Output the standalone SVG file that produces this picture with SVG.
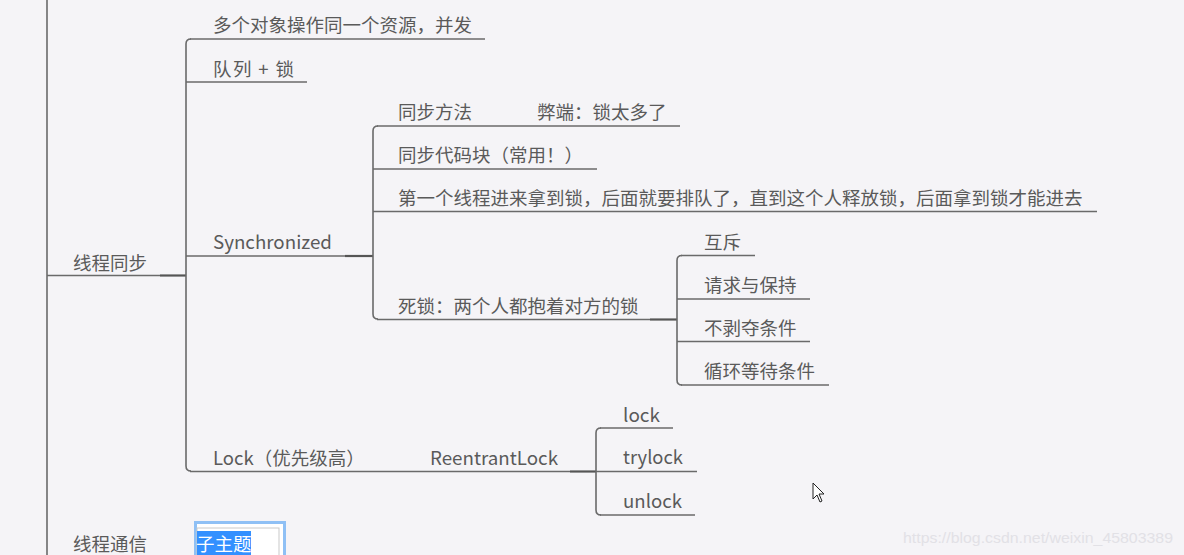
<svg xmlns="http://www.w3.org/2000/svg" width="1184" height="555" viewBox="0 0 1184 555">
<style>
.bg{fill:#f5f4f7}
.t{font-family:"Microsoft YaHei","Noto Sans CJK SC","Noto Sans",sans-serif;font-size:18.5px;fill:#5a5a5a}
.ln{stroke:#6a6a6a;stroke-width:1.6;fill:none}
.dk{stroke:#555555;stroke-width:2.2;fill:none}
.wm{font-family:"Liberation Sans",Arial,sans-serif;font-size:15px;fill:#e2e1e6}
</style>
<rect class="bg" x="0" y="0" width="1184" height="555"/>
<g id="connectors">
<line class="ln" x1="47" y1="0" x2="47" y2="555"/>
<line class="dk" x1="160" y1="275.5" x2="186" y2="275.5"/>
<path class="ln" d="M191 39 Q186 39 186 44 V466 Q186 471 191 471"/>
<line class="dk" x1="345" y1="256" x2="373" y2="256"/>
<path class="ln" d="M378 126 Q373 126 373 131 V314 Q373 319 378 319"/>
<line class="dk" x1="650" y1="319.5" x2="677" y2="319.5"/>
<path class="ln" d="M682 255.5 Q677 255.5 677 260.5 V380 Q677 385 682 385"/>
<line class="dk" x1="570" y1="471.5" x2="596" y2="471.5"/>
<path class="ln" d="M601 428 Q596 428 596 433 V510 Q596 515 601 515"/>
</g>
<g id="n-sync-root">
<line class="ln" x1="47" y1="275.5" x2="160" y2="275.5"/>
<text class="t" x="73" y="270">线程同步</text>
</g>
<g id="n-concurrent">
<line class="ln" x1="190" y1="39" x2="485" y2="39"/>
<text class="t" x="213" y="32">多个对象操作同一个资源，并发</text>
</g>
<g id="n-queue">
<line class="ln" x1="186" y1="82" x2="307" y2="82"/>
<text class="t" x="213" y="76" textLength="81" lengthAdjust="spacing">队列 + 锁</text>
</g>
<g id="n-synchronized">
<line class="ln" x1="186" y1="256" x2="345" y2="256"/>
<text class="t" x="213" y="249" textLength="119" lengthAdjust="spacingAndGlyphs">Synchronized</text>
</g>
<g id="n-method">
<line class="ln" x1="377" y1="126" x2="680" y2="126"/>
<text class="t" x="398" y="119">同步方法</text>
<text class="t" x="537" y="119">弊端：锁太多了</text>
</g>
<g id="n-block">
<line class="ln" x1="373" y1="169" x2="597" y2="169"/>
<text class="t" x="398" y="162">同步代码块（常用！）</text>
</g>
<g id="n-first">
<line class="ln" x1="373" y1="211.5" x2="1097" y2="211.5"/>
<text class="t" x="398" y="205">第一个线程进来拿到锁，后面就要排队了，直到这个人释放锁，后面拿到锁才能进去</text>
</g>
<g id="n-deadlock">
<line class="ln" x1="377" y1="319.5" x2="650" y2="319.5"/>
<text class="t" x="398" y="313">死锁：两个人都抱着对方的锁</text>
</g>
<g id="n-mutex">
<line class="ln" x1="681" y1="255.5" x2="755" y2="255.5"/>
<text class="t" x="704" y="249">互斥</text>
</g>
<g id="n-hold">
<line class="ln" x1="677" y1="299" x2="810" y2="299"/>
<text class="t" x="704" y="292">请求与保持</text>
</g>
<g id="n-nopre">
<line class="ln" x1="677" y1="341.5" x2="810" y2="341.5"/>
<text class="t" x="704" y="335">不剥夺条件</text>
</g>
<g id="n-circular">
<line class="ln" x1="681" y1="385" x2="829" y2="385"/>
<text class="t" x="704" y="378">循环等待条件</text>
</g>
<g id="n-lock">
<line class="ln" x1="190" y1="471.5" x2="380" y2="471.5"/>
<text class="t" x="213" y="465">Lock（优先级高）</text>
</g>
<g id="n-reentrant">
<line class="ln" x1="380" y1="471.5" x2="570" y2="471.5"/>
<text class="t" x="430" y="465" textLength="128" lengthAdjust="spacingAndGlyphs">ReentrantLock</text>
</g>
<g id="n-lk">
<line class="ln" x1="600" y1="428" x2="673" y2="428"/>
<text class="t" x="623" y="422" textLength="37" lengthAdjust="spacingAndGlyphs">lock</text>
</g>
<g id="n-trylock">
<line class="ln" x1="596" y1="471.5" x2="697" y2="471.5"/>
<text class="t" x="623" y="464" textLength="60" lengthAdjust="spacingAndGlyphs">trylock</text>
</g>
<g id="n-unlock">
<line class="ln" x1="600" y1="515" x2="695" y2="515"/>
<text class="t" x="623" y="508" textLength="59" lengthAdjust="spacingAndGlyphs">unlock</text>
</g>
<g id="n-comm">
<text class="t" x="73" y="551">线程通信</text>
</g>
<g id="n-sub">
<rect x="195.5" y="522.5" width="89" height="40" fill="#ffffff" stroke="#8fc0f5" stroke-width="3"/>
<rect x="197" y="528" width="82" height="30" fill="#ffffff" stroke="#c9c9c9" stroke-width="1"/>
<rect x="197" y="531" width="54" height="26" fill="#3390ff"/>
<text x="196" y="551" font-family="Microsoft YaHei,'Noto Sans CJK SC',sans-serif" font-size="18.5" fill="#ffffff">子主题</text>
</g>
<path d="M813 483 V499 L817 495 L820 502 L822 501 L819 494 L824 494 Z" fill="#ffffff" stroke="#222222" stroke-width="1"/>
<text class="wm" x="903" y="543" textLength="270" lengthAdjust="spacingAndGlyphs">https://blog.csdn.net/weixin_45803389</text>
</svg>
